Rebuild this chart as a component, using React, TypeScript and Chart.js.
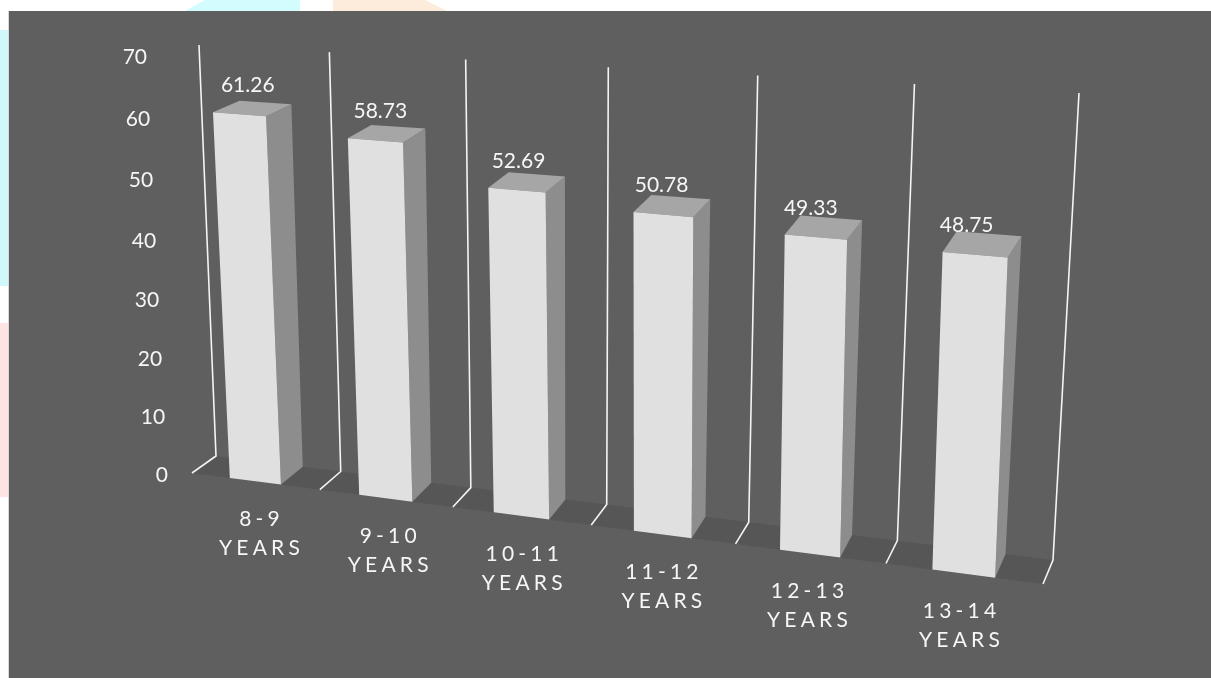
import { useEffect, useRef } from "react";
import { Chart, registerables } from "chart.js";

Chart.register(...registerables);

// ---- data ----
const categories = ["8-9 YEARS", "9-10 YEARS", "10-11 YEARS", "11-12 YEARS", "12-13 YEARS", "13-14 YEARS"];
const values = [61.26, 58.73, 52.69, 50.78, 49.33, 48.75];
const yTicks = [0, 10, 20, 30, 40, 50, 60, 70];
const Y_MIN = 0;
const Y_MAX = 70;

// ---- view geometry (perspective planes of the 3D box) ----
type Pt = [number, number];
function quadMap(p0: Pt, p1: Pt, p2: Pt, p3: Pt) {
  const [x0, y0] = p0, [x1, y1] = p1, [x2, y2] = p2, [x3, y3] = p3;
  const dx1 = x1 - x2, dx2 = x3 - x2, dx3 = x0 - x1 + x2 - x3;
  const dy1 = y1 - y2, dy2 = y3 - y2, dy3 = y0 - y1 + y2 - y3;
  const den = dx1 * dy2 - dx2 * dy1;
  const g = (dx3 * dy2 - dx2 * dy3) / den;
  const h = (dx1 * dy3 - dx3 * dy1) / den;
  const a = x1 - x0 + g * x1, b = x3 - x0 + h * x3, c = x0;
  const d = y1 - y0 + g * y1, e = y3 - y0 + h * y3, f = y0;
  return (u: number, v: number): Pt => {
    const w = g * u + h * v + 1;
    return [(a * u + b * v + c) / w, (d * u + e * v + f) / w];
  };
}
const BACK = quadMap([216, 456], [1053, 560], [1079, 93], [199, 45]);
const FRONT = quadMap([192, 473], [1043, 584], [1064, 114], [171, 55]);
function P(s: number, t: number, d: number): Pt {
  const f = FRONT(s, t);
  const b = BACK(s, t);
  return [f[0] + (b[0] - f[0]) * d, f[1] + (b[1] - f[1]) * d];
}

const FONT = "Lato, 'Open Sans', sans-serif";
const TEXT = "#f6f6f6";

function poly(ctx: CanvasRenderingContext2D, pts: Pt[], fill: string) {
  ctx.beginPath();
  ctx.moveTo(pts[0][0], pts[0][1]);
  for (let i = 1; i < pts.length; i++) ctx.lineTo(pts[i][0], pts[i][1]);
  ctx.closePath();
  ctx.fillStyle = fill;
  ctx.fill();
}

const perspectivePlugin = {
  id: "perspective3d",
  beforeDraw(chart: any) {
    const ctx: CanvasRenderingContext2D = chart.ctx;
    const W = chart.width, H = chart.height;
    ctx.save();
    ctx.fillStyle = "#ffffff";
    ctx.fillRect(0, 0, W, H);
    // pastel decorations of the page margin
    poly(ctx, [[205, 0], [300, 0], [300, 11], [185, 11]], "#d2fcfd");
    poly(ctx, [[333, 0], [425, 0], [447, 11], [333, 11]], "#fdebdc");
    poly(ctx, [[0, 30], [9, 30], [9, 286], [0, 286]], "#d0f8fb");
    poly(ctx, [[0, 323], [9, 323], [9, 497], [0, 497]], "#fde3e3");
    ctx.fillStyle = "#d8d8d8";
    ctx.fillRect(8, 11, 1, H - 11);
    ctx.fillStyle = "#5f5f5f";
    ctx.fillRect(9, 11, W - 9, H - 11);
    ctx.restore();
  },
  afterDatasetsDraw(chart: any) {
    const ctx: CanvasRenderingContext2D = chart.ctx;
    const a = chart.chartArea;
    const xs = chart.scales.x;
    const ys = chart.scales.y;
    const S = (px: number) => (px - a.left) / (a.right - a.left);
    const T = (py: number) => (a.bottom - py) / (a.bottom - a.top);
    const n = categories.length;
    ctx.save();

    // floor
    const t0 = T(ys.getPixelForValue(Y_MIN));
    const tTop = T(ys.getPixelForValue(Y_MAX));
    poly(ctx, [P(0, t0, 0), P(1, t0, 0), P(1, t0, 1), P(0, t0, 1)], "#565656");

    // category boundary gridlines
    const centers = categories.map((_, i) => xs.getPixelForValue(i));
    const step = centers.length > 1 ? centers[1] - centers[0] : a.right - a.left;
    const bounds: number[] = [];
    for (let k = 0; k <= n; k++) bounds.push(k < n ? centers[k] - step / 2 : centers[n - 1] + step / 2);
    ctx.strokeStyle = "#f4f4f4";
    ctx.lineWidth = 1.6;
    ctx.lineJoin = "miter";
    bounds.forEach((bx) => {
      const s = S(bx);
      const top = P(s, tTop, 1);
      const bot = P(s, t0, 1);
      const fr = P(s, t0, 0);
      ctx.beginPath();
      ctx.moveTo(top[0], top[1]);
      ctx.lineTo(bot[0], bot[1]);
      ctx.lineTo(fr[0], fr[1]);
      ctx.stroke();
    });

    // bars
    const meta = chart.getDatasetMeta(0);
    meta.data.forEach((bar: any, i: number) => {
      const { x, y, base, width } = bar.getProps(["x", "y", "base", "width"], true);
      const sL = S(x - width / 2);
      const sR = S(x + width / 2);
      const tb = T(base);
      const tv = T(y);
      poly(ctx, [P(sR, tb, 0), P(sR, tb, 1), P(sR, tv, 1), P(sR, tv, 0)], "#8d8d8d");
      poly(ctx, [P(sL, tv, 0), P(sR, tv, 0), P(sR, tv, 1), P(sL, tv, 1)], "#a6a6a6");
      poly(ctx, [P(sL, tb, 0), P(sR, tb, 0), P(sR, tv, 0), P(sL, tv, 0)], "#e0e0e0");

      // value label
      const sC = S(x);
      const lp = P(sC, tv, 0);
      ctx.font = `21px ${FONT}`;
      ctx.fillStyle = TEXT;
      ctx.textAlign = "center";
      ctx.textBaseline = "middle";
      (ctx as any).letterSpacing = "0px";
      ctx.fillText(values[i].toFixed(2), lp[0] + 10 - 20 * sC, lp[1] - 29);

      // category label (two lines, letter-spaced)
      const parts = categories[i].split(" ");
      const cp = P(sC, tb, 0);
      const sp = 4.2;
      (ctx as any).letterSpacing = `${sp}px`;
      ctx.font = `21px ${FONT}`;
      parts.forEach((line, li) => {
        ctx.fillText(line, cp[0] + 5 - 10 * sC + sp / 2, cp[1] + 38 + li * 29);
      });
      (ctx as any).letterSpacing = "0px";
    });

    // value axis tick labels
    ctx.font = `21px ${FONT}`;
    ctx.fillStyle = TEXT;
    ctx.textAlign = "right";
    ctx.textBaseline = "middle";
    yTicks.forEach((v) => {
      const t = T(ys.getPixelForValue(v));
      const p = P(0, t, 0);
      ctx.fillText(String(v), p[0] - 24, p[1] + 2);
    });
    ctx.restore();
  },
};

export default function App() {
  const ref = useRef<HTMLCanvasElement | null>(null);
  useEffect(() => {
    if (!ref.current) return;
    const chart = new Chart(ref.current, {
      type: "bar",
      data: {
        labels: categories,
        datasets: [
          {
            data: values,
            backgroundColor: "rgba(0,0,0,0)",
            borderWidth: 0,
            categoryPercentage: 0.4,
            barPercentage: 1,
          },
        ],
      },
      options: {
        responsive: false,
        animation: false,
        devicePixelRatio: 1,
        layout: { padding: 0 },
        plugins: { legend: { display: false }, tooltip: { enabled: false } },
        scales: {
          x: { type: "category", display: false, offset: true },
          y: { type: "linear", display: false, min: Y_MIN, max: Y_MAX },
        },
      },
      plugins: [perspectivePlugin],
    });
    return () => chart.destroy();
  }, []);
  return (
    <div style={{ position: "fixed", left: 0, top: 0, width: 1211, height: 678 }}>
      <canvas ref={ref} width={1211} height={678} style={{ display: "block" }} />
    </div>
  );
}
